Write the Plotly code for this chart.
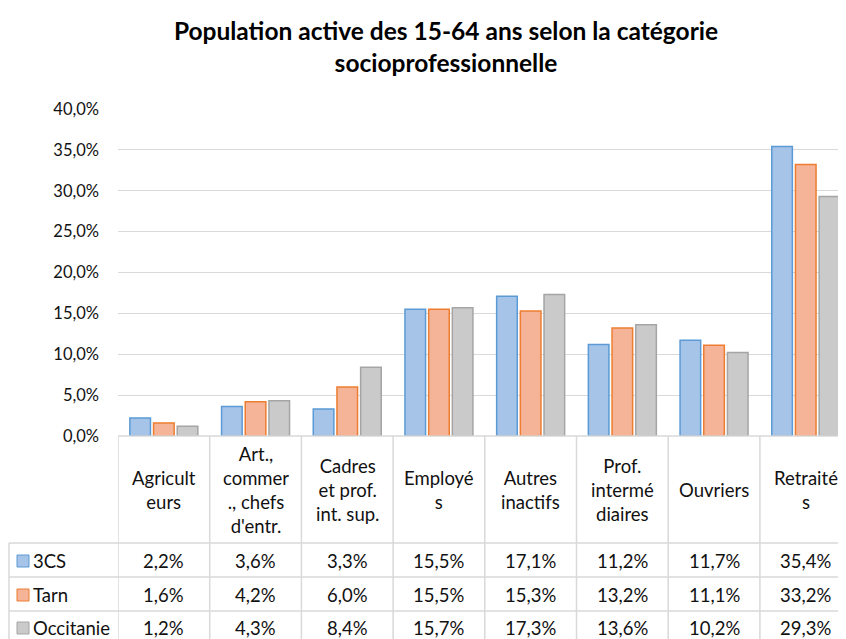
import plotly.graph_objects as go

# data
categories = ["Agricult<br>eurs", "Art.,<br>commer<br>., chefs<br>d'entr.", "Cadres<br>et prof.<br>int. sup.",
              "Employé<br>s", "Autres<br>inactifs", "Prof.<br>intermé<br>diaires", "Ouvriers", "Retraité<br>s"]
series_names = ["3CS", "Tarn", "Occitanie"]
val_3cs = [2.2, 3.6, 3.3, 15.5, 17.1, 11.2, 11.7, 35.4]
val_tarn = [1.6, 4.2, 6.0, 15.5, 15.3, 13.2, 11.1, 33.2]
val_occitanie = [1.2, 4.3, 8.4, 15.7, 17.3, 13.6, 10.2, 29.3]
y_ticks = [0, 5, 10, 15, 20, 25, 30, 35, 40]


def pct(v):
    return f"{v:.1f}%".replace(".", ",")


fills = ["#a6c3e8", "#f5b497", "#cacaca"]
borders = ["#5b9bd5", "#ed7d31", "#a5a5a5"]
FONT = "Lato"
TXT = "#111111"
GRID = "#d9d9d9"

# the page body has an 8px margin, so screen px = figure px + 8
OFF = 8
W, H = 846, 639
L = 118 - OFF
T = 109 - OFF
B = H - (436 - OFF)
PW, PH = W - L, H - T - B
CW = 91.7  # px per category


def py(sy):
    # screen row -> paper y
    return ((436 - OFF) - (sy - OFF)) / PH


def px_(sx):
    return (sx - OFF - L) / PW


fig = go.Figure()
all_vals = [val_3cs, val_tarn, val_occitanie]
xs = list(range(len(categories)))
for name, vals, fc, bc in zip(series_names, all_vals, fills, borders):
    fig.add_trace(go.Bar(x=xs, y=vals, name=name,
                         marker=dict(color=fc, line=dict(color=bc, width=1.5))))

shapes = []
# axis line / table top
shapes.append(dict(type="line", xref="paper", yref="paper", x0=0, x1=1, y0=0, y1=0,
                   line=dict(color=GRID, width=1.5)))
# vertical separators
for i in range(len(categories) + 1):
    shapes.append(dict(type="line", xref="x", yref="paper", x0=i - 0.5, x1=i - 0.5,
                       y0=0, y1=py(660), line=dict(color=GRID, width=1.5)))
# legend column left edge
shapes.append(dict(type="line", xref="paper", yref="paper", x0=px_(9), x1=px_(9),
                   y0=py(543), y1=py(660), line=dict(color=GRID, width=1.5)))
# horizontal row lines
for ry in [543, 577, 611]:
    shapes.append(dict(type="line", xref="paper", yref="paper", x0=px_(9), x1=1,
                       y0=py(ry), y1=py(ry), line=dict(color=GRID, width=1.5)))

annotations = []
# category labels in header row
for i, c in enumerate(categories):
    annotations.append(dict(x=i, y=py(490), xref="x", yref="paper", text=c, showarrow=False,
                            xanchor="center", yanchor="middle", align="center",
                            font=dict(family=FONT, size=18.5, color=TXT)))
# data rows
row_y = [561, 595, 628]
for r, (name, vals, fc, bc) in enumerate(zip(series_names, all_vals, fills, borders)):
    cy = row_y[r]
    shapes.append(dict(type="rect", xref="paper", yref="paper",
                       x0=px_(17), x1=px_(29), y0=py(cy - 6), y1=py(cy + 6),
                       fillcolor=fc, line=dict(color=bc, width=1)))
    annotations.append(dict(x=px_(31), y=py(cy), xref="paper", yref="paper", text=name,
                            showarrow=False, xanchor="left", yanchor="middle",
                            font=dict(family=FONT, size=18.5, color=TXT)))
    for i, v in enumerate(vals):
        annotations.append(dict(x=i, y=py(cy), xref="x", yref="paper",
                                text=pct(v), showarrow=False,
                                xanchor="center", yanchor="middle",
                                font=dict(family=FONT, size=18.5, color=TXT)))

fig.update_layout(
    width=W, height=H,
    margin=dict(l=L, r=0, t=T, b=B),
    paper_bgcolor="white", plot_bgcolor="white",
    title=dict(text="Population active des 15-64 ans selon la catégorie<br>socioprofessionnelle",
               xref="container", x=(446 - OFF) / W, xanchor="center",
               y=1 - (40 - OFF) / H, yanchor="middle",
               font=dict(family=FONT, size=24.5, color="black", weight="bold")),
    showlegend=False,
    barmode="group", bargap=0.225, bargroupgap=0.13,
    shapes=shapes, annotations=annotations,
    xaxis=dict(range=[-0.5, -0.5 + PW / CW], showticklabels=False, showgrid=False,
               zeroline=False, ticks=""),
    yaxis=dict(range=[0, 40], tickmode="array", tickvals=y_ticks,
               ticktext=[pct(v) for v in y_ticks],
               showgrid=True, gridcolor=GRID, gridwidth=1, zeroline=False,
               tickfont=dict(family=FONT, size=16.5, color=TXT), ticklabelstandoff=18),
)

fig.write_html("out.html")
